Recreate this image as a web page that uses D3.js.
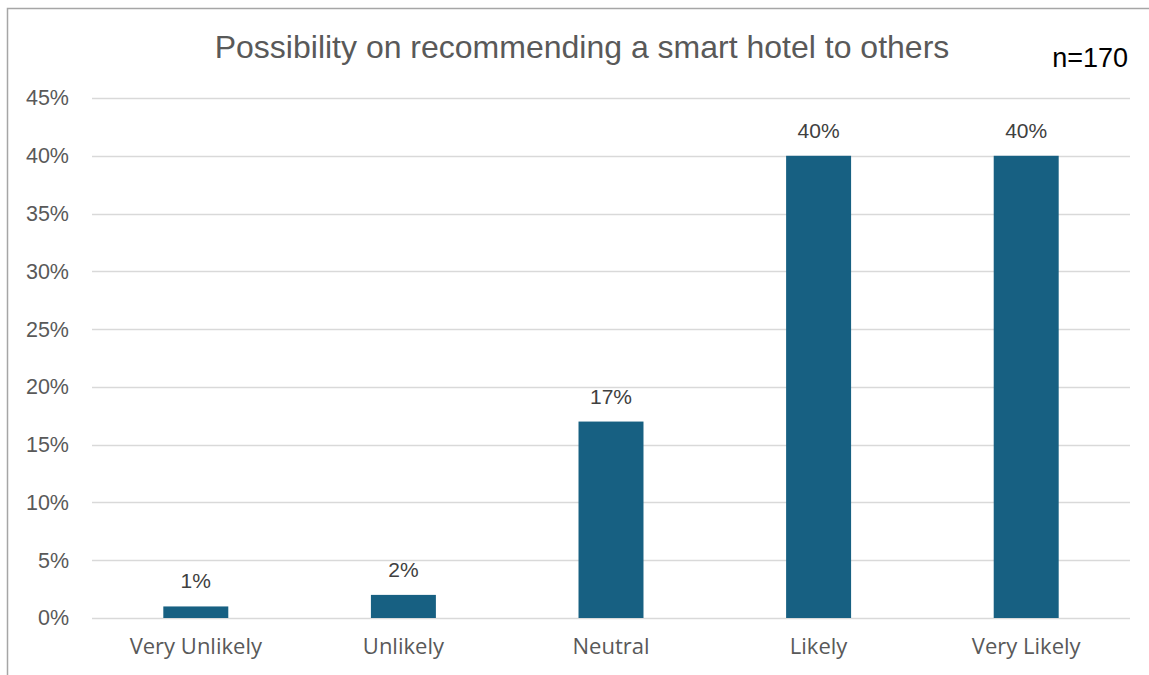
<!DOCTYPE html>
<html>
<head>
<meta charset="utf-8">
<script src="https://cdn.jsdelivr.net/npm/d3@7"></script>
<style>
  html, body { margin: 0; padding: 0; background: #fff; }
  svg { display: block; }
</style>
</head>
<body>
<svg id="chart" width="1149" height="675"></svg>
<script>
// Survey responses (share of respondents)
const categories = ["Very Unlikely", "Unlikely", "Neutral", "Likely", "Very Likely"];
const shares = [1, 2, 17, 40, 40];
const tickValues = [0, 5, 10, 15, 20, 25, 30, 35, 40, 45];

const svg = d3.select("#chart");
const W = 1149, H = 675;
const margin = { top: 98, right: 19, bottom: 57, left: 92 };

// Chart frame (left and top edges)
svg.append("path")
  .attr("d", `M7.5,${H} L7.5,8.5 L${W},8.5`)
  .attr("fill", "none")
  .attr("stroke", "#a6a6a6")
  .attr("stroke-width", 1.5);

const x = d3.scaleBand()
  .domain(categories)
  .range([margin.left, W - margin.right])
  .paddingInner(0.687)
  .paddingOuter(0.3435);

const y = d3.scaleLinear()
  .domain([0, 45])
  .range([H - margin.bottom, margin.top]);

// Gridlines
svg.append("g")
  .selectAll("line")
  .data(tickValues)
  .join("line")
  .attr("x1", margin.left)
  .attr("x2", W - margin.right)
  .attr("y1", d => Math.round(y(d)) + 0.5)
  .attr("y2", d => Math.round(y(d)) + 0.5)
  .attr("stroke", "#d9d9d9")
  .attr("stroke-width", 1.5);

// Y axis labels
const yAxis = d3.axisLeft(y)
  .tickValues(tickValues)
  .tickFormat(d => d + "%")
  .tickSize(0)
  .tickPadding(0);
const gy = svg.append("g")
  .attr("transform", `translate(69,0)`)
  .call(yAxis);
gy.select(".domain").remove();
gy.selectAll("text")
  .attr("fill", "#595959")
  .style("font-family", "'Liberation Sans', Arial, sans-serif")
  .style("font-size", "21.5px");

// X axis labels
const xAxis = d3.axisBottom(x).tickSize(0).tickPadding(0);
const gx = svg.append("g")
  .attr("transform", `translate(0,${H - margin.bottom + 20})`)
  .call(xAxis);
gx.select(".domain").remove();
gx.selectAll("text")
  .attr("fill", "#595959")
  .style("font-family", "'Open Sans', Lato, sans-serif")
  .style("font-size", "22px");

// Bars
svg.append("g")
  .selectAll("rect")
  .data(shares)
  .join("rect")
  .attr("x", (d, i) => x(categories[i]))
  .attr("width", x.bandwidth())
  .attr("y", d => y(d))
  .attr("height", d => y(0) - y(d))
  .attr("fill", "#176082");

// Value labels
svg.append("g")
  .selectAll("text")
  .data(shares)
  .join("text")
  .attr("x", (d, i) => x(categories[i]) + x.bandwidth() / 2)
  .attr("y", d => y(d) - 18)
  .attr("text-anchor", "middle")
  .attr("fill", "#404040")
  .style("font-family", "'Liberation Sans', Arial, sans-serif")
  .style("font-size", "21px")
  .text(d => d + "%");

// Title
svg.append("text")
  .attr("x", 582)
  .attr("y", 58)
  .attr("text-anchor", "middle")
  .attr("fill", "#595959")
  .style("font-family", "'Liberation Sans', Arial, sans-serif")
  .style("font-size", "32px")
  .text("Possibility on recommending a smart hotel to others");

// Sample size note
svg.append("text")
  .attr("x", 1128)
  .attr("y", 67)
  .attr("text-anchor", "end")
  .attr("fill", "#000")
  .style("font-family", "'Liberation Sans', Arial, sans-serif")
  .style("font-size", "27px")
  .text("n=170");
</script>
</body>
</html>
